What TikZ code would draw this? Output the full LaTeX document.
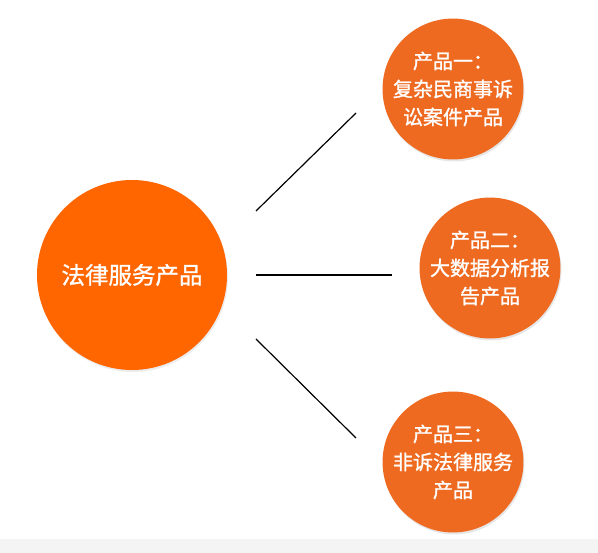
\documentclass[tikz,border=0pt]{standalone}
\usepackage{fontspec}
\usepackage{xcolor}
\usepackage{tikz}
\usetikzlibrary{shadows}
\newfontfamily\cjk[FakeBold=1.2]{Noto Sans CJK SC}
\definecolor{huborange}{HTML}{FF6600}
\definecolor{prodorange}{HTML}{EE6A20}
\definecolor{stripgray}{HTML}{F4F4F4}
\tikzset{
  hubcircle/.style={circle,fill=huborange,minimum size=190pt,inner sep=0pt,
    text=white,font=\cjk\fontsize{23.5}{28}\selectfont,
    drop shadow={opacity=0.15,shadow xshift=1pt,shadow yshift=-2pt}},
  prodcircle/.style={circle,fill=prodorange,minimum size=136pt,inner sep=0pt,
    text=white,align=center,font=\cjk\fontsize{20}{28}\selectfont,
    drop shadow={opacity=0.2,shadow xshift=1pt,shadow yshift=-2pt}},
  link/.style={draw=black,line width=1.2pt}
}

\begin{document}
\begin{tikzpicture}[x=1pt,y=-1pt]
  \useasboundingbox (0,0) rectangle (598,553);
  \fill[stripgray] (0,539) rectangle (598,553);
  \node[hubcircle] (hub) at (132,275) {法律服务产品};
  \node[prodcircle] (prod1) at (453,89) {产品一：\\复杂民商事诉\\讼案件产品};
  \node[prodcircle] (prod2) at (490,268) {产品二：\\大数据分析报\\告产品};
  \node[prodcircle] (prod3) at (453,462) {产品三：\\非诉法律服务\\产品};
  % connector ends, kept clear of the circles
  \coordinate (hubtop) at (256,211);
  \coordinate (hubmid) at (256,275);
  \coordinate (hubbot) at (256,339);
  \coordinate (prodtop) at (356,113);
  \coordinate (prodmid) at (392,275);
  \coordinate (prodbot) at (356,438);
  \draw[link] (hubtop) -- (prodtop);
  \draw[link] (hubmid) -- (prodmid);
  \draw[link] (hubbot) -- (prodbot);
\end{tikzpicture}
\end{document}
